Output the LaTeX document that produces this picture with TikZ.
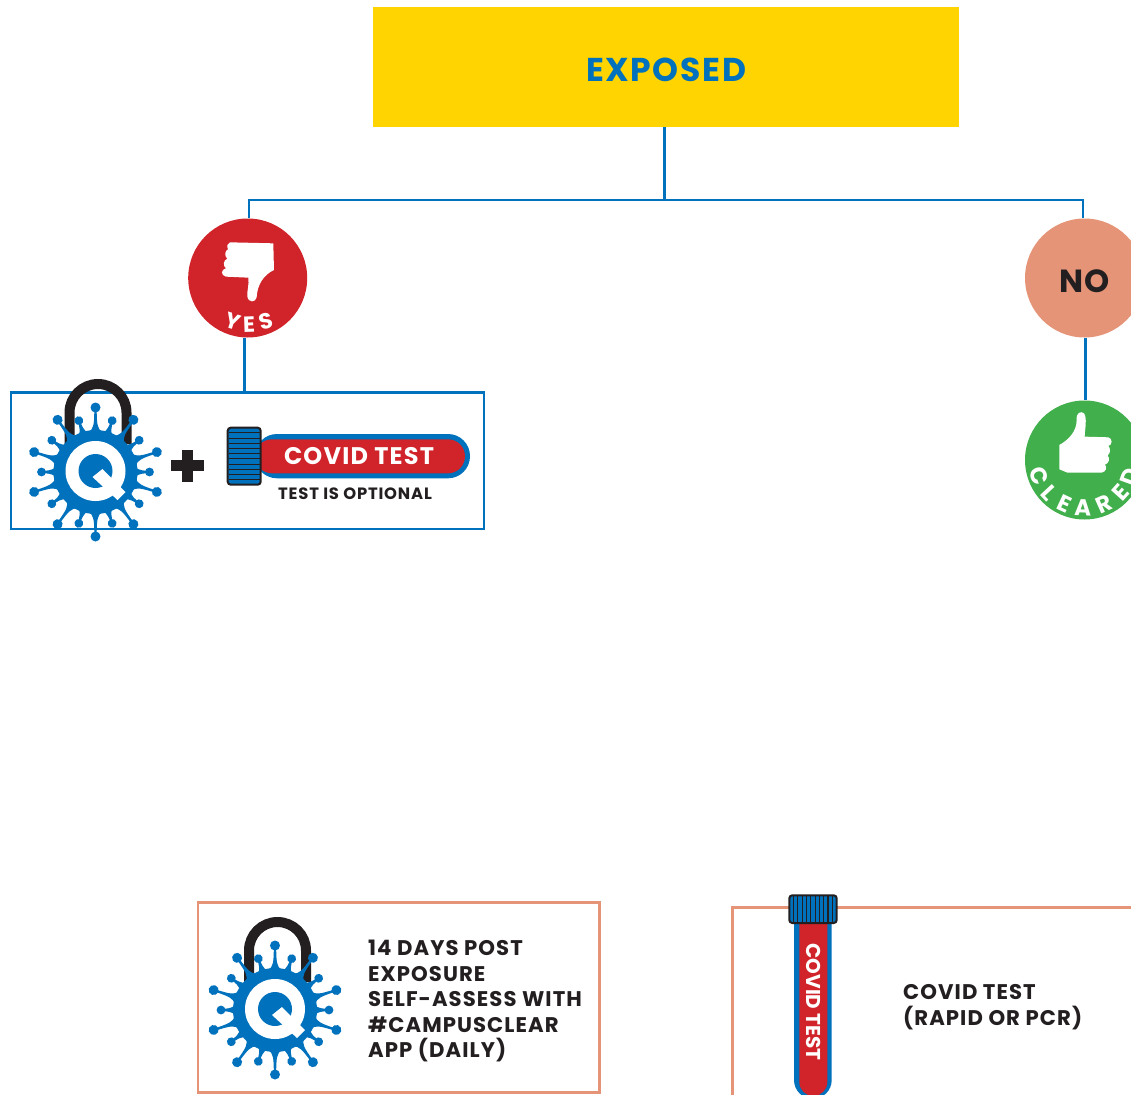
\documentclass[tikz,border=0pt]{standalone}
\usepackage{fontspec}
\setmainfont{Poppins}[LetterSpace=5]
\newfontfamily\tightfam{Poppins}
\definecolor{qblue}{HTML}{0071BC}
\definecolor{qyellow}{HTML}{FFD400}
\definecolor{qred}{HTML}{D0232A}
\definecolor{qgreen}{HTML}{41AF4B}
\definecolor{qsalmon}{HTML}{E59478}
\definecolor{qdark}{HTML}{231F20}
\newcommand{\fs}[1]{\fontsize{#1}{25.5}\selectfont\bfseries}
\tikzset{
  link/.style={draw=qblue,line width=2.5pt},
  disc/.style={circle,minimum size=119pt,inner sep=0pt},
  sbox/.style={draw=qsalmon,line width=2.6pt},
  bodytext/.style={text=qdark,anchor=west,align=left,inner sep=0pt,font=\fs{21.2}},
  curveletter/.style={text=white,inner sep=0pt},
  qvirus/.pic={
    \draw[qdark,line width=10pt] (-26,-28) -- (-26,-59.5) arc[start angle=180,end angle=360,radius=28.5] -- (31,-28);
    \foreach \a [count=\i] in {0,18,...,342}{
      \pgfmathsetmacro{\R}{isodd(\i)?54:64.5}
      \pgfmathsetmacro{\B}{isodd(\i)?4.4:5}
      \pgfmathsetmacro{\W}{isodd(\i)?4.5:6.5}
      \begin{scope}[rotate=\a]
        \fill[qblue] (40,-\W) .. controls (44,-1.8) and (47,-1.2) .. (\R,-1.2) -- (\R,1.2) .. controls (47,1.2) and (44,1.8) .. (40,\W) -- cycle;
        \fill[qblue] (\R,0) circle[radius=\B];
      \end{scope}
    }
    \fill[qblue] (0,0) circle[radius=42];
    \fill[white] (0,-1) circle[radius=30];
    \fill[qblue] (0,-1) circle[radius=17];
    \fill[white] (-3,5) -- (7,-3) -- (30,20) -- (22,28) -- cycle;
  },
  tubestripe/.style={draw=qdark,line width=1.1pt}
}
\begin{document}
\begin{tikzpicture}[x=1pt,y=-1pt]
\useasboundingbox (0,0) rectangle (1131,1094);
\clip (0,0) rectangle (1131,1094);
\fill[white] (0,0) rectangle (1131,1094);

% main nodes
\node[fill=qyellow,minimum width=586pt,minimum height=120pt,inner sep=0pt] (exposed) at (666,67) {};
\node[text=qblue,font=\fs{33},inner sep=0pt] (exposedt) at (666,70) {EXPOSED};
\node[disc,fill=qred] (yes) at (247.7,278) {};
\node[disc,fill=qsalmon] (no) at (1084.5,278) {};
\node[text=qdark,font=\fs{32},inner sep=0pt] (not) at (1084.5,281) {NO};
\node[disc,fill=qgreen] (cleared) at (1084.5,460) {};
\node[draw=qblue,line width=2.5pt,fill=white,minimum width=473pt,minimum height=136.7pt,inner sep=0pt] (optbox) at (247.5,460.7) {};

% connectors
\coordinate (tm) at (664.5,200);
\coordinate (tl) at (249,200);
\coordinate (tr) at (1083,200);
\coordinate (ya) at (244.7,365);
\coordinate (na) at (1085.3,370);
\draw[link] (tm |- exposed.south) -- (tm);
\draw[link] (yes.north -| tl) -- (tl) -- (tr) -- (no.north -| tr);
\draw[link] (yes.south -| ya) -- (optbox.north -| ya);
\draw[link] (no.south -| na) -- (cleared.north -| na);

% thumb down
\begin{scope}[shift={(0,210)},x=0.3333pt,y=-0.3333pt]
\fill[white] (690,97) -- (820,100) -- (822,180) .. controls (790,195) and (772,225) .. (770,262)
  .. controls (768,278) and (744,280) .. (742,258) .. controls (741,240) and (748,225) .. (745,203)
  -- (678,200) .. controls (662,197) and (662,178) .. (678,175) .. controls (668,168) and (670,150) .. (682,146)
  .. controls (672,138) and (675,122) .. (684,118) .. controls (680,108) and (682,100) .. (690,97) -- cycle;
\end{scope}
\node[curveletter,rotate=-18,font=\fs{22}] (yy) at (233,321) {Y};
\node[curveletter,rotate=2,font=\fs{22}] (ye) at (249,324.5) {E};
\node[curveletter,rotate=15,font=\fs{22}] (ys) at (266,321) {S};

% thumb up
\begin{scope}[shift={(980,190)},x=0.3333pt,y=-0.3333pt]
\fill[white] (238,765) .. controls (265,750) and (290,725) .. (290,690) .. controls (288,668) and (302,662) .. (312,670)
  .. controls (322,685) and (315,715) .. (314,740) -- (385,742) .. controls (398,745) and (398,765) .. (385,768)
  .. controls (392,775) and (392,790) .. (383,796) .. controls (390,805) and (388,820) .. (375,824)
  .. controls (382,832) and (378,846) .. (365,848) -- (262,848) -- (238,838) -- cycle;
\end{scope}
\foreach \L/\p [count=\i] in {C/-70,L/-47,E/-25,A/-2,R/24,E/48,D/70}{
  \node[curveletter,rotate=\p,font=\fs{23}] (cl\i) at ({1084.5+48*sin(\p)},{460+48*cos(\p)}) {\L};
}

% option box content
\pic at (95.5,472) {qvirus};
\fill[qdark] (182,449.5) rectangle (192.7,482);
\fill[qdark] (171,460.3) rectangle (204,471);
\fill[qblue] (255,434) [rounded corners=22pt] rectangle (470,478.3);
\fill[qred] (255,439.3) [rounded corners=17pt] rectangle (465,473.3);
\node[text=white,font=\fs{24},inner sep=0pt] (covidh) at (359,455.7) {COVID TEST};
\node[text=qdark,font=\fs{16.4},inner sep=0pt] (optional) at (355,493.5) {TEST IS OPTIONAL};
\fill[qblue,draw=qdark,line width=2pt,rounded corners=3pt] (227.7,427.7) rectangle (260.7,484.7);
\foreach \k in {1,...,10}{
  \draw[tubestripe] (228.7,{427.7+\k*5.2}) -- (259.7,{427.7+\k*5.2});
}

% salmon box 1
\node[sbox,minimum width=401.3pt,minimum height=190.4pt,inner sep=0pt] (dayspost) at (398.6,997.5) {};
\pic at (275,1010) {qvirus};
\node[bodytext] (dayst) at (368,1001) {14 DAYS POST\\EXPOSURE\\SELF-ASSESS WITH\\\#CAMPUSCLEAR\\APP (DAILY)};

% salmon box 2
\draw[sbox] (732.7,1110) -- (732.7,907.7) -- (1140,907.7);
\fill[qblue] (794,920) -- (794,1080) arc[start angle=180,end angle=0,radius=18.85] -- (831.7,920) -- cycle;
\fill[qred] (799.3,920) -- (799.3,1082) arc[start angle=180,end angle=0,radius=14] -- (827.3,920) -- cycle;
\fill[qblue,draw=qdark,line width=2pt,rounded corners=3pt] (789.3,895.3) rectangle (836.7,923);
\foreach \k in {1,...,10}{
  \draw[tubestripe] ({789.3+\k*4.3},896.3) -- ({789.3+\k*4.3},922);
}
\node[text=white,font={\tightfam\fs{20}},inner sep=0pt,rotate=-90] (covidv) at (814,1002) {COVID TEST};
\node[bodytext] (rapid) at (903,1007) {COVID TEST\\(RAPID OR PCR)};
\end{tikzpicture}
\end{document}
